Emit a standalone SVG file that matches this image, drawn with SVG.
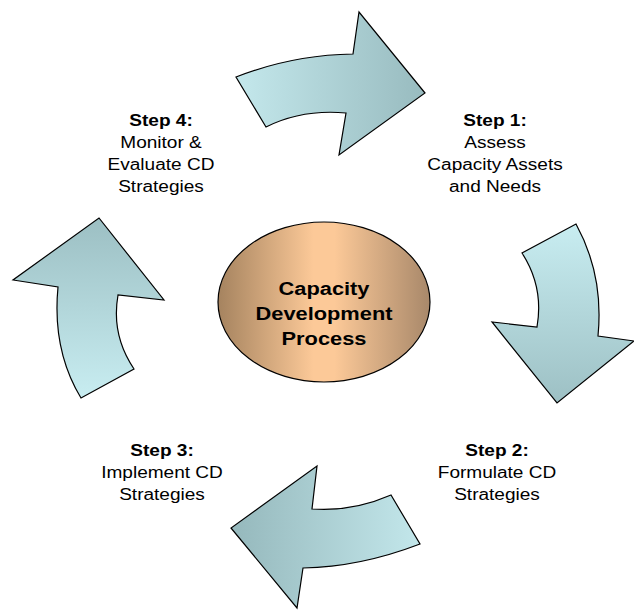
<svg xmlns="http://www.w3.org/2000/svg" width="634" height="610" viewBox="0 0 634 610">
<style>
.arrow{stroke:#000;stroke-width:1.2;stroke-linejoin:miter}
.t{font-family:"Liberation Sans",Arial,sans-serif;font-size:16px;fill:#000;text-anchor:middle}
.b{font-weight:bold}
.c{font-family:"Liberation Sans",Arial,sans-serif;font-size:18.5px;font-weight:bold;fill:#000;text-anchor:middle}
</style>
<defs>
<linearGradient id="gTop" x1="0" y1="0" x2="1" y2="0"><stop offset="0" stop-color="#c4e8ec"/><stop offset="1" stop-color="#98bbbf"/></linearGradient>
<linearGradient id="gRight" x1="0" y1="0" x2="0" y2="1"><stop offset="0" stop-color="#c8edf1"/><stop offset="1" stop-color="#9dc0c4"/></linearGradient>
<linearGradient id="gBottom" x1="1" y1="0" x2="0" y2="0"><stop offset="0" stop-color="#c3e7eb"/><stop offset="1" stop-color="#95b8bc"/></linearGradient>
<linearGradient id="gLeft" x1="0" y1="1" x2="0" y2="0"><stop offset="0" stop-color="#c8edf1"/><stop offset="1" stop-color="#9cbfc3"/></linearGradient>
<linearGradient id="gCenter" x1="0" y1="0" x2="1" y2="0"><stop offset="0" stop-color="#a5835f"/><stop offset="0.45" stop-color="#fcc998"/><stop offset="0.55" stop-color="#fcc998"/><stop offset="1" stop-color="#a8886a"/></linearGradient>
</defs>
<g id="connectors">
<path id="arrow-top" class="arrow" fill="url(#gTop)" d="M236,77 Q292,55 353,54 L359,12 L425,93 L339,155 L346,113 Q302,109 266,127 Z"/>
<path id="arrow-right" class="arrow" fill="url(#gRight)" d="M576,224 Q604,275 598,336 L634,341 L557,403 L492,322 L537,327 Q544,287 522,253 Z"/>
<path id="arrow-bottom" class="arrow" fill="url(#gBottom)" d="M420,544 Q360,567 303,568 L297,608 L231,528 L317,466 L312,509 Q352,512 391,495 Z"/>
<path id="arrow-left" class="arrow" fill="url(#gLeft)" d="M81,398 Q52,350 58,287 L13,280 L99,218 L164,300 L118,295 Q111,335 134,369 Z"/>
</g>
<g id="center">
<ellipse cx="324" cy="302" rx="106" ry="80" fill="url(#gCenter)" stroke="#000" stroke-width="1.2"/>
<g transform="translate(324,0) scale(1.18,1)">
<text class="c" x="0" y="295">Capacity</text>
<text class="c" x="0" y="320">Development</text>
<text class="c" x="0" y="345">Process</text>
</g>
</g>
<g id="step1" transform="translate(495,0) scale(1.19,1)">
<text class="t b" x="0" y="126">Step 1:</text>
<text class="t" x="0" y="148">Assess</text>
<text class="t" x="0" y="170">Capacity Assets</text>
<text class="t" x="0" y="192">and Needs</text>
</g>
<g id="step2" transform="translate(497,0) scale(1.19,1)">
<text class="t b" x="0" y="456">Step 2:</text>
<text class="t" x="0" y="478">Formulate CD</text>
<text class="t" x="0" y="500">Strategies</text>
</g>
<g id="step3" transform="translate(162,0) scale(1.19,1)">
<text class="t b" x="0" y="456">Step 3:</text>
<text class="t" x="0" y="478">Implement CD</text>
<text class="t" x="0" y="500">Strategies</text>
</g>
<g id="step4" transform="translate(161,0) scale(1.19,1)">
<text class="t b" x="0" y="126">Step 4:</text>
<text class="t" x="0" y="148">Monitor &amp;</text>
<text class="t" x="0" y="170">Evaluate CD</text>
<text class="t" x="0" y="192">Strategies</text>
</g>
</svg>
